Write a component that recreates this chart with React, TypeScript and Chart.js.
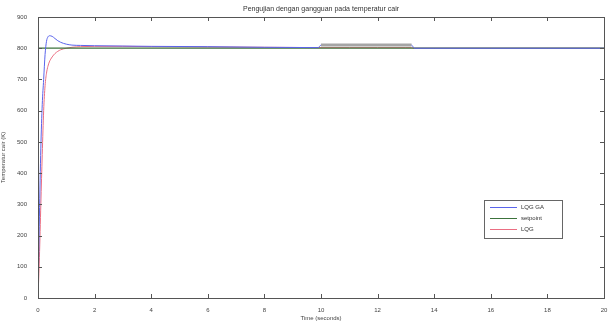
import React, { useEffect, useRef } from "react";
import { Chart, registerables } from "chart.js";

Chart.register(...registerables);

const titleText = "Pengujian dengan gangguan pada temperatur cair";
const xTitle = "Time (seconds)";
const yTitle = "Temperatur cair (K)";

const seriesLabels = ["LQG GA", "setpoint", "LQG"];

const timeValues = [0, 0.05, 0.1, 0.15, 0.2, 0.25, 0.3, 0.35, 0.4, 0.5, 0.6, 0.7, 0.8, 1.0, 1.2, 1.5, 2, 3, 4, 6, 8, 9.9, 10, 11, 12, 13, 13.2, 13.3, 14, 16, 18, 20];
const lqgGaValues = [0, 260, 480, 620, 700, 780, 822, 836, 840, 838, 831, 824, 819, 813, 810, 809, 808, 807, 806, 805, 803, 802, 810, 810, 810, 810, 810, 800, 800, 800, 800, 800];
const lqgValues = [0, 130, 300, 460, 600, 680, 720, 742, 756, 772, 783, 790, 795, 800, 803, 805, 806, 806, 805, 804, 803, 802, 802, 802, 802, 802, 802, 800, 800, 800, 800, 800];
const setpointTime = [0, 20];
const setpointValues = [800, 800];

const disturbanceStart = 10;
const disturbanceEnd = 13.2;

const FONT = "'Liberation Sans', Arial, sans-serif";

export default function App() {
  const ref = useRef<HTMLCanvasElement | null>(null);

  useEffect(() => {
    document.body.style.margin = "0";
    const canvas = ref.current;
    if (!canvas) return;

    const framePlugin = {
      id: "matlabFrame",
      afterDatasetsDraw(chart: any) {
        const { ctx, chartArea: a, scales } = chart;
        ctx.save();
        ctx.strokeStyle = "#555";
        ctx.lineWidth = 1;
        ctx.strokeRect(Math.round(a.left) + 0.5, Math.round(a.top) + 0.5, Math.round(a.width), Math.round(a.height));
        const xs = scales.x;
        const ys = scales.y;
        ctx.beginPath();
        xs.ticks.forEach((t: any) => {
          const px = Math.round(xs.getPixelForValue(t.value)) + 0.5;
          ctx.moveTo(px, a.bottom);
          ctx.lineTo(px, a.bottom - 4);
          ctx.moveTo(px, a.top);
          ctx.lineTo(px, a.top + 4);
        });
        ys.ticks.forEach((t: any) => {
          const py = Math.round(ys.getPixelForValue(t.value)) + 0.5;
          ctx.moveTo(a.left, py);
          ctx.lineTo(a.left + 4, py);
          ctx.moveTo(a.right, py);
          ctx.lineTo(a.right - 4, py);
        });
        ctx.stroke();

        // legend
        const lx0 = a.left + a.width * 0.788;
        const lx1 = a.left + a.width * 0.926;
        const ly0 = a.top + a.height * 0.651;
        const ly1 = a.top + a.height * 0.786;
        ctx.fillStyle = "#fff";
        ctx.fillRect(lx0, ly0, lx1 - lx0, ly1 - ly0);
        ctx.strokeStyle = "#666";
        ctx.strokeRect(Math.round(lx0) + 0.5, Math.round(ly0) + 0.5, Math.round(lx1 - lx0), Math.round(ly1 - ly0));
        ctx.font = `6px ${FONT}`;
        ctx.textBaseline = "middle";
        [0, 1, 2].forEach((di, i) => {
          const ds = chart.data.datasets[di];
          const y = Math.round(ly0 + 7 + i * 11) + 0.5;
          ctx.strokeStyle = ds.borderColor;
          ctx.lineWidth = 1;
          ctx.beginPath();
          ctx.moveTo(lx0 + 6, y);
          ctx.lineTo(lx0 + 33, y);
          ctx.stroke();
          ctx.fillStyle = "#333";
          ctx.textAlign = "left";
          ctx.fillText(ds.label, lx0 + 37, y);
        });

        // title
        ctx.fillStyle = "#333";
        ctx.font = `7px ${FONT}`;
        ctx.textAlign = "center";
        ctx.textBaseline = "middle";
        ctx.fillText(titleText, (a.left + a.right) / 2, 9);
        ctx.restore();
      },
    };

    const inBand = (c: any) => c.p0.parsed.x >= disturbanceStart && c.p1.parsed.x <= disturbanceEnd;

    const chart = new Chart(canvas, {
      type: "line",
      data: {
        datasets: [
          {
            label: seriesLabels[0],
            data: timeValues.map((t, i) => ({ x: t, y: lqgGaValues[i] })),
            borderColor: "rgb(90,100,235)",
            borderWidth: 1,
            pointRadius: 0,
            cubicInterpolationMode: "monotone",
            segment: {
              borderColor: (c: any) => (inBand(c) ? "rgb(165,165,165)" : undefined),
              borderWidth: (c: any) => (inBand(c) ? 3 : undefined),
            },
          },
          {
            label: seriesLabels[1],
            data: setpointTime.map((t, i) => ({ x: t, y: setpointValues[i] })),
            borderColor: "rgb(60,115,60)",
            borderWidth: 1.2,
            pointRadius: 0,
          },
          {
            label: seriesLabels[2],
            data: timeValues.map((t, i) => ({ x: t, y: lqgValues[i] })),
            borderColor: "rgb(235,110,130)",
            borderWidth: 1,
            pointRadius: 0,
            cubicInterpolationMode: "monotone",
          },
        ],
      },
      options: {
        responsive: false,
        animation: false,
        layout: { padding: { top: 17, right: 7, left: 0, bottom: 0 } },
        plugins: {
          legend: { display: false },
          tooltip: { enabled: false },
          title: { display: false },
        },
        scales: {
          x: {
            type: "linear",
            min: 0,
            max: 20,
            grid: { display: false },
            border: { display: false },
            ticks: {
              stepSize: 2,
              color: "#444",
              font: { size: 6, family: FONT },
              padding: 1,
              maxRotation: 0,
            },
            title: {
              display: true,
              text: xTitle,
              color: "#444",
              font: { size: 6, family: FONT },
              padding: { top: 0, bottom: 0 },
            },
            afterFit: (s: any) => {
              s.height = 24;
            },
          },
          y: {
            type: "linear",
            min: 0,
            max: 900,
            grid: { display: false },
            border: { display: false },
            ticks: {
              stepSize: 100,
              color: "#444",
              font: { size: 6, family: FONT },
              padding: 3,
            },
            title: {
              display: true,
              text: yTitle,
              color: "#444",
              font: { size: 6, family: FONT },
              padding: { top: 0, bottom: 2 },
            },
            afterFit: (s: any) => {
              s.width = 38;
            },
          },
        },
      },
      plugins: [framePlugin],
    });

    return () => chart.destroy();
  }, []);

  return (
    <div style={{ width: 611, height: 322, background: "#fff" }}>
      <canvas ref={ref} width={611} height={322} style={{ display: "block" }} />
    </div>
  );
}
